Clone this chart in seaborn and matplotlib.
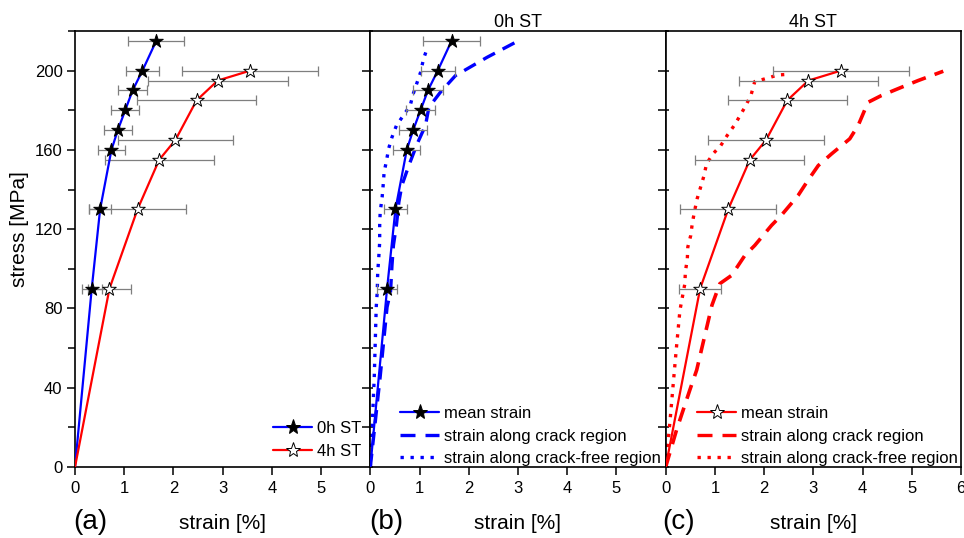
import numpy as np
import pandas as pd
import matplotlib
matplotlib.use("Agg")
import matplotlib.pyplot as plt
from matplotlib.lines import Line2D
from matplotlib.ticker import MultipleLocator
import seaborn as sns

# ---- data -------------------------------------------------------------
# mean strain, 0h ST (with standard deviation)
stress_0h = [0, 90, 130, 160, 170, 180, 190, 200, 215]
strain_0h = [0, 0.34, 0.51, 0.74, 0.87, 1.02, 1.17, 1.37, 1.65]
sd_0h = [0, 0.20, 0.23, 0.27, 0.28, 0.29, 0.30, 0.34, 0.57]

# mean strain, 4h ST (with standard deviation)
stress_4h = [0, 90, 130, 155, 165, 185, 195, 200]
strain_4h = [0, 0.70, 1.27, 1.71, 2.04, 2.47, 2.90, 3.56]
sd_4h = [0, 0.43, 0.98, 1.11, 1.17, 1.21, 1.42, 1.38]

# local strain, 0h ST
crack_0h_stress = [0, 45.5, 80.7, 88.3, 101.8, 112, 122, 133.7, 142, 152, 163,
                   172.3, 181.5, 189, 197.5, 206.7, 214.3]
crack_0h_strain = [0, 0.20, 0.34, 0.41, 0.44, 0.47, 0.53, 0.58, 0.64, 0.78, 0.95,
                   1.12, 1.19, 1.42, 1.73, 2.37, 2.95]
free_0h_stress = [0, 10, 45.5, 80.7, 88.3, 98.4, 105.1, 113.5, 122, 128.6, 136.2,
                  142, 148.8, 154.7, 160.5, 166.4, 172.3, 182.4, 188.2, 199.1,
                  205.9, 212.3]
free_0h_strain = [0, 0.02, 0.08, 0.12, 0.14, 0.15, 0.17, 0.19, 0.19, 0.20, 0.24,
                  0.26, 0.28, 0.33, 0.37, 0.44, 0.53, 0.81, 0.87, 1.02, 1.08, 1.17]

# local strain, 4h ST
crack_4h_stress = [0, 18.6, 38.8, 48.9, 81.6, 92.5, 96.7, 106.8, 111.8, 121.9, 127,
                   137, 144.6, 152.1, 158, 165.6, 172.3, 184, 187.4, 191.6, 195, 199.7]
crack_4h_strain = [0, 0.22, 0.49, 0.63, 0.94, 1.10, 1.34, 1.61, 1.81, 2.15, 2.35,
                   2.69, 2.89, 3.10, 3.37, 3.74, 3.91, 4.11, 4.38, 4.79, 5.13, 5.64]
free_4h_stress = [0, 23.7, 43.8, 60.6, 79.1, 92.5, 98.4, 105.1, 111, 116.9, 122.8,
                  129.5, 135.4, 141.2, 147.1, 153, 158, 162.2, 167.3, 172.6, 177.7,
                  182.9, 188.2, 194.5, 195.8, 197.8, 198.2]
free_4h_strain = [0, 0.09, 0.16, 0.22, 0.29, 0.39, 0.40, 0.44, 0.45, 0.51, 0.54,
                  0.59, 0.64, 0.71, 0.78, 0.83, 0.96, 1.12, 1.25, 1.40, 1.52,
                  1.64, 1.74, 1.81, 2.01, 2.28, 2.52]

x_ticks_ab = [0, 1, 2, 3, 4, 5]
x_ticks_c = [0, 1, 2, 3, 4, 5, 6]
y_ticks = [0, 40, 80, 120, 160, 200]

# ---- style ------------------------------------------------------------
sns.set_theme(style="ticks")
plt.rcParams["font.family"] = ["Liberation Sans", "DejaVu Sans"]
plt.rcParams.update({
    "axes.linewidth": 1.2,
    "text.color": "black",
    "axes.labelcolor": "black",
    "axes.titlecolor": "black",
    "xtick.color": "black",
    "ytick.color": "black",
    "axes.edgecolor": "black",
})

BLUE = "#0000ff"
RED = "#ff0000"
GREY = "#7f7f7f"
DASH = (0, (4.0, 2.6))
DOT = (0, (1.0, 2.0))

W, H = 964, 538
fig = plt.figure(figsize=(W / 100, H / 100), dpi=100)

left0, right_end = 75, 961
top_px, bot_px = 31, 467
pw = (right_end - left0) / 3
axes = []
for i in range(3):
    ax = fig.add_axes([(left0 + i * pw) / W, 1 - bot_px / H, pw / W,
                       (bot_px - top_px) / H])
    axes.append(ax)


def mean_curve(ax, strain, stress, sd, color, face):
    ax.errorbar(strain[1:], stress[1:], xerr=sd[1:], fmt="none", ecolor=GREY,
                elinewidth=0.9, capsize=3.5, capthick=0.9, zorder=2)
    sns.lineplot(x=strain, y=stress, sort=False, estimator=None, color=color,
                 lw=1.6, ax=ax, zorder=3, legend=False)
    sns.scatterplot(x=strain[1:], y=stress[1:], marker="*", s=105, color=face,
                    edgecolor="black", linewidth=0.7, ax=ax, zorder=4,
                    legend=False)


def local_curve(ax, strain, stress, color, ls, lw):
    sns.lineplot(x=strain, y=stress, sort=False, estimator=None, color=color,
                 lw=lw, linestyle=ls, ax=ax, zorder=1, legend=False)


# (a) both conditions
mean_curve(axes[0], strain_0h, stress_0h, sd_0h, BLUE, "black")
mean_curve(axes[0], strain_4h, stress_4h, sd_4h, RED, "white")

# (b) 0h ST
local_curve(axes[1], crack_0h_strain, crack_0h_stress, BLUE, DASH, 2.4)
local_curve(axes[1], free_0h_strain, free_0h_stress, BLUE, DOT, 2.4)
mean_curve(axes[1], strain_0h, stress_0h, sd_0h, BLUE, "black")

# (c) 4h ST
local_curve(axes[2], crack_4h_strain, crack_4h_stress, RED, DASH, 2.6)
local_curve(axes[2], free_4h_strain, free_4h_stress, RED, DOT, 2.4)
mean_curve(axes[2], strain_4h, stress_4h, sd_4h, RED, "white")

# ---- axes formatting ---------------------------------------------------
for i, ax in enumerate(axes):
    ax.set_xlim(0, 6)
    ax.set_ylim(0, 220)
    ax.set_xticks(x_ticks_c if i == 2 else x_ticks_ab)
    ax.set_yticks(y_ticks)
    ax.yaxis.set_minor_locator(MultipleLocator(20))
    ax.set_xlabel("strain [%]", fontsize=15, labelpad=13)
    ax.set_ylabel("")
    for s in ax.spines.values():
        s.set_visible(True)
        s.set_color("black")
        s.set_linewidth(1.2)
    ax.tick_params(axis="x", which="major", direction="out", length=6,
                   width=1.1, labelsize=12, pad=4, top=False, colors="black")
    ax.tick_params(axis="x", which="minor", bottom=False, top=False)
    if i == 0:
        ax.tick_params(axis="y", which="both", direction="out", left=True,
                       right=False, width=1.1, labelsize=12, pad=3,
                       colors="black")
        ax.tick_params(axis="y", which="major", length=6)
        ax.tick_params(axis="y", which="minor", length=5)
    else:
        ax.tick_params(axis="y", which="both", direction="in", left=True,
                       right=False, length=2, width=1.1, labelleft=False)
    if i < 2:
        # inward ticks on the right edge of the first two panels
        sec = ax.secondary_yaxis("right")
        sec.set_yticks(np.arange(20, 220, 20))
        sec.tick_params(direction="in", length=6, width=1.1, labelright=False)
        sec.spines["right"].set_visible(False)

axes[1].set_title("0h ST", fontsize=13, pad=3)
axes[2].set_title("4h ST", fontsize=13, pad=3)

fig.text(20 / W, 1 - 229 / H, "stress [MPa]", rotation=90, fontsize=15,
         ha="center", va="center")
for lbl, xpx in zip(["(a)", "(b)", "(c)"], [73, 369, 662]):
    fig.text(xpx / W, 1 - 522 / H, lbl, fontsize=20, ha="left", va="center")

# ---- legends -------------------------------------------------------------
leg_kw = dict(frameon=False, fontsize=12, handlelength=2.35, handletextpad=0.3,
              labelspacing=0.45, borderpad=0, borderaxespad=0,
              loc="upper left")

h_a = [Line2D([], [], color=BLUE, lw=1.6, marker="*", ms=11, mfc="black",
              mec="black", mew=0.7),
       Line2D([], [], color=RED, lw=1.6, marker="*", ms=11, mfc="white",
              mec="black", mew=0.7)]
axes[0].legend(h_a, ["0h ST", "4h ST"],
               bbox_to_anchor=(273 / W, 1 - 421 / H),
               bbox_transform=fig.transFigure, **leg_kw)

labels_bc = ["mean strain", "strain along crack region",
             "strain along crack-free region"]
for ax, col, face, xpx in [(axes[1], BLUE, "black", 400),
                           (axes[2], RED, "white", 697)]:
    hs = [Line2D([], [], color=col, lw=1.6, marker="*", ms=11, mfc=face,
                 mec="black", mew=0.7),
          Line2D([], [], color=col, lw=2.4, linestyle=(0, (4.5, 3.0))),
          Line2D([], [], color=col, lw=2.4, linestyle=DOT)]
    ax.legend(hs, labels_bc, bbox_to_anchor=(xpx / W, 1 - 406 / H),
              bbox_transform=fig.transFigure, **leg_kw)

fig.savefig("out.png", dpi=100)
